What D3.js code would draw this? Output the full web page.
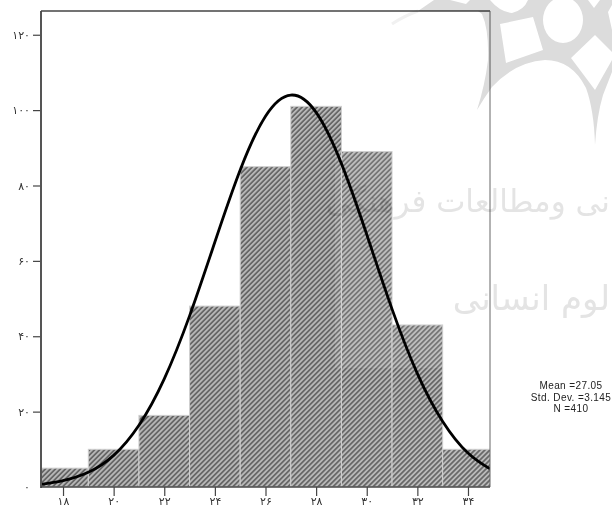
<!DOCTYPE html>
<html><head><meta charset="utf-8">
<script src="https://cdnjs.cloudflare.com/ajax/libs/d3/7.8.5/d3.min.js"></script>
<style>html,body{margin:0;padding:0;background:#fff;overflow:hidden}svg{display:block}</style>
</head><body><div id="c"></div>
<script>
const binStarts=[17,19,21,23,25,27,29,31,33];
const binWidth=2;
const counts=[5,10,19,48,85,101,89,43,10];
const curveX=[17.13,18,19,20,21,22,23,24,25,26,27,28,29,30,31,32,33,34,34.87];
const curveY=[0.7,1.7,3.9,8.4,16.4,28.7,45.4,65,84.1,98.4,104,99.4,85.8,67,47.2,30.1,17.4,9,4.8];
const xTicks=[18,20,22,24,26,28,30,32,34];
const xLabels=["۱۸","۲۰","۲۲","۲۴","۲۶","۲۸","۳۰","۳۲","۳۴"];
const yTicks=[0,20,40,60,80,100,120];
const yLabels=["۰","۲۰","۴۰","۶۰","۸۰","۱۰۰","۱۲۰"];
const stats=["Mean =27.05","Std. Dev. =3.145","N =410"];

const W=612,H=510,L=41,R=490,T=11,B=487;
const svg=d3.select("#c").append("svg").attr("width",W).attr("height",H);
const x=d3.scaleLinear().domain([17.13,34.87]).range([L,R]);
const y=d3.scaleLinear().domain([0,126.3]).range([B,T]);
const defs=svg.append("defs");
const p=defs.append("pattern").attr("id","hatch").attr("patternUnits","userSpaceOnUse")
 .attr("width",3.54).attr("height",4).attr("patternTransform","rotate(45)");
p.append("rect").attr("width",3.54).attr("height",4).attr("fill","#686868");
p.append("rect").attr("width",1.7).attr("height",4).attr("fill","#bcbcbc");
defs.append("clipPath").attr("id","plot").append("rect").attr("x",L).attr("y",T).attr("width",R-L).attr("height",B-T);

const g=svg.append("g").attr("clip-path","url(#plot)");
g.selectAll("rect.bar").data(counts).join("rect").attr("class","bar")
 .attr("x",(d,i)=>x(binStarts[i])).attr("width",(d,i)=>x(binStarts[i]+binWidth)-x(binStarts[i]))
 .attr("y",d=>y(d)).attr("height",d=>y(0)-y(d))
 .attr("fill","url(#hatch)").attr("stroke","#cfcfcf").attr("stroke-width",1);
g.append("rect").attr("x",335).attr("y",152).attr("width",107).attr("height",216).attr("fill","#fff").attr("opacity",0.1);

const line=d3.line().x(d=>x(d[0])).y(d=>y(d[1])).curve(d3.curveNatural);
g.append("path").datum(curveX.map((v,i)=>[v,curveY[i]])).attr("d",line)
 .attr("fill","none").attr("stroke","#000").attr("stroke-width",2.8);

const fa="'DejaVu Sans',sans-serif";
const ax=svg.append("g").attr("transform",`translate(0,${B})`)
 .call(d3.axisBottom(x).tickValues(xTicks).tickSize(9).tickPadding(1).tickFormat((d,i)=>xLabels[i]));
const ay=svg.append("g").attr("transform",`translate(${L},0)`)
 .call(d3.axisLeft(y).tickValues(yTicks).tickSize(8).tickPadding(3).tickFormat((d,i)=>yLabels[i]));
[ax,ay].forEach(a=>{a.select(".domain").remove();
 a.selectAll("line").attr("stroke","#444").attr("stroke-width",1.2);
 a.selectAll("text").attr("font-family",fa).attr("font-size",11).attr("fill","#333");});
ay.selectAll(".tick").filter(d=>d===0).select("line").remove();

const frame=svg.append("g").attr("fill","none");
frame.append("line").attr("x1",L).attr("x2",L).attr("y1",T).attr("y2",B+1).attr("stroke","#555").attr("stroke-width",2);
frame.append("line").attr("x1",L).attr("x2",R).attr("y1",T).attr("y2",T).attr("stroke","#444").attr("stroke-width",1.3);
frame.append("line").attr("x1",R).attr("x2",R).attr("y1",T).attr("y2",B).attr("stroke","#666").attr("stroke-width",1);
frame.append("line").attr("x1",L).attr("x2",R).attr("y1",B).attr("y2",B).attr("stroke","#444").attr("stroke-width",1.6);

svg.append("g").selectAll("text").data(stats).join("text")
 .attr("x",571).attr("y",(d,i)=>389+i*11.5).attr("text-anchor","middle")
 .attr("font-family","'Liberation Sans',Arial,sans-serif").attr("font-size",10).attr("letter-spacing",0.4).attr("fill","#222").text(d=>d);

// watermark
const wm=svg.append("g").style("mix-blend-mode","multiply");
wm.append("path").attr("fill","none").attr("stroke","#f1f1f1").attr("stroke-width",3).attr("d","M392,24 Q404,16 418,11");
wm.append("path").attr("fill","#dcdcdc").attr("fill-rule","evenodd").attr("d",
 "M418,11 L434,0 L612,0 L612,72 L603,95 Q597,115 595,145 Q594,110 586,88 Q572,60 545,60 Q515,62 492,87 Q484,98 477,110 Q485,85 488,60 Q489,30 482,14 L478,11 Z"+
 " M490,0 Q500,12 512,13 Q524,10 528,0 Z"+
 " M500,24 L533,17 L543,50 L506,63 Z"+
 " M543,20 A20,23 0 1 0 583,20 A20,23 0 1 0 543,20 Z"+
 " M571,58 L595,35 L612,52 L612,60 L595,90 Z"+
 " M450,0 L470,0 L466,4 Z"+
 " M588,0 L600,0 L594,8 Z M608,12 L612,5 L612,30 Z");
const wmText=wm.append("g").attr("font-family",fa).attr("fill","#e4e4e4").style("direction","rtl");
wmText.append("text").attr("x",610).attr("y",212).attr("text-anchor","start").attr("font-size",31).text("نی ومطالعات فرهنگی");
wmText.append("text").attr("x",610).attr("y",310).attr("text-anchor","start").attr("font-size",34).text("لوم انسانی");
</script></body></html>
